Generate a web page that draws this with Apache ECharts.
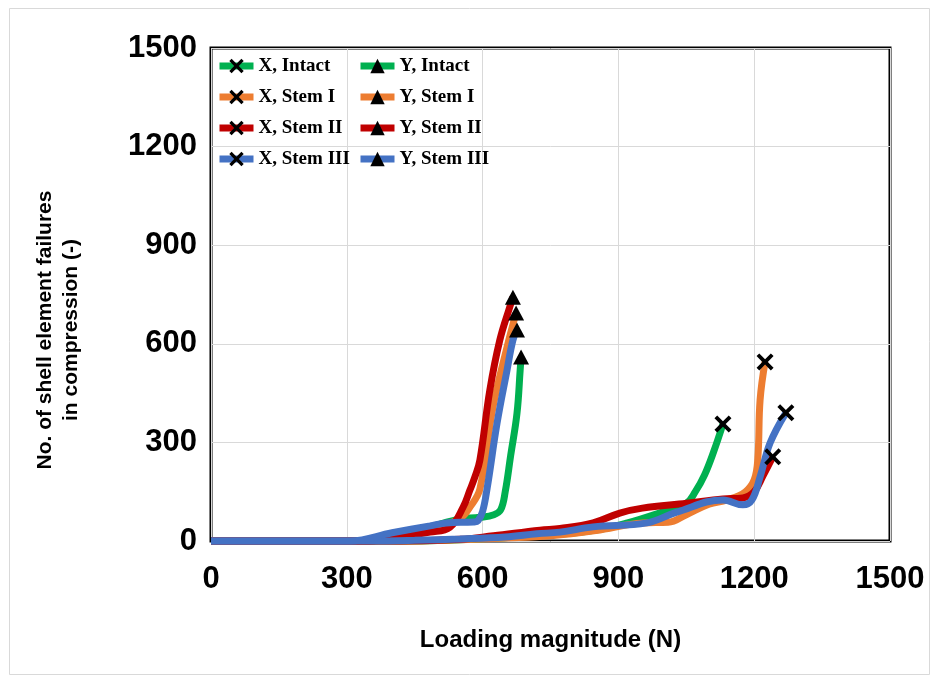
<!DOCTYPE html>
<html lang="en">
<head>
    <meta charset="UTF-8">
    <title>Shell element failures</title>
    <script src="https://cdn.jsdelivr.net/npm/echarts@6/dist/echarts.min.js"></script>
    <style>
        html, body { margin: 0; padding: 0; background: #fff; }
        #chart { width: 937px; height: 681px; }
    </style>
</head>
<body>
    <div id="chart"></div>
    <script>
        // axis ticks
        var xTicks = [0, 300, 600, 900, 1200, 1500];
        var yTicks = [0, 300, 600, 900, 1200, 1500];

        // [load (N), failures]
        var xIntact = [[0,0],[450,0],[550,4],[650,10],[750,18],[850,33],[920,55],[990,85],[1050,115],[1070,150],[1090,200],[1110,270],[1131,356]];
        var xStemI = [[0,0],[450,0],[550,4],[650,9],[750,16],[850,32],[954,55],[1010,57],[1050,80],[1100,112],[1140,125],[1180,149],[1200,186],[1208,250],[1213,429],[1224,545]];
        var xStemII = [[0,0],[420,0],[550,5],[624,16],[727,33],[771,38],[844,55],[903,85],[953,100],[1051,115],[1131,128],[1175,131],[1200,150],[1220,200],[1241,256]];
        var xStemIII = [[0,0],[350,0],[450,2],[550,6],[650,12],[720,22],[771,27],[844,43],[963,55],[1029,88],[1131,125],[1175,110],[1195,125],[1213,195],[1235,298],[1270,390]];

        var yIntact = [[0,0],[350,0],[450,28],[543,65],[594,72],[625,80],[640,95],[650,150],[662,260],[676,389],[683,520],[685,560]];
        var yStemI = [[0,0],[330,0],[400,12],[460,32],[510,48],[550,68],[572,103],[594,158],[623,408],[654,590],[674,694]];
        var yStemII = [[0,0],[350,0],[380,5],[484,27],[528,42],[557,103],[572,155],[583,195],[594,246],[616,459],[638,611],[660,712],[667,742]];
        var yStemIII = [[0,0],[307,0],[400,25],[484,46],[520,55],[580,58],[590,62],[600,90],[610,160],[632,359],[654,520],[667,611],[676,642]];

        var green = '#00b050', orange = '#ed7d31', red = '#c00000', blue = '#4472c4';
        var cross = 'path://M0,1.6L1.6,0L5,3.4L8.4,0L10,1.6L6.6,5L10,8.4L8.4,10L5,6.6L1.6,10L0,8.4L3.4,5Z';

        // only the last point gets a marker
        function build(points) {
            return points.map(function(p, i) {
                return i === points.length - 1 ? p : {value: p, symbol: 'none'};
            });
        }

        function line(name, points, color, symbol) {
            return {
                name: name,
                type: 'line',
                data: build(points),
                symbol: symbol,
                symbolSize: symbol === 'triangle' ? [16, 15] : 17,
                smooth: 0.4,
                clip: false,
                lineStyle: {color: color, width: 7},
                itemStyle: {color: '#000'},
                emphasis: {disabled: true}
            };
        }

        var legendText = {fontFamily: 'Liberation Serif', fontWeight: 'bold', fontSize: 19, lineHeight: 20, color: '#000'};
        var plain = function(v) { return String(v); };

        var chart = echarts.init(document.getElementById('chart'));
        chart.setOption({
            animation: false,
            backgroundColor: '#fff',
            graphic: [{
                type: 'rect',
                shape: {x: 9.5, y: 8.5, width: 920, height: 666},
                style: {fill: 'none', stroke: '#d9d9d9', lineWidth: 1},
                silent: true
            }, {
                type: 'text',
                x: 58, y: 330, rotation: Math.PI / 2,
                style: {
                    text: 'No. of shell element failures\nin compression (-)',
                    fontFamily: 'Liberation Sans', fontWeight: 'bold', fontSize: 21, lineHeight: 26,
                    fill: '#000', align: 'center', verticalAlign: 'middle'
                },
                silent: true
            }],
            grid: {
                left: 211, right: 47, top: 48, bottom: 140,
                show: true, borderColor: '#000', borderWidth: 3
            },
            legend: [{
                data: ['X, Intact', 'X, Stem I', 'X, Stem II', 'X, Stem III'],
                orient: 'vertical', left: 211, top: 51,
                itemWidth: 34, itemHeight: 18, itemGap: 11,
                lineStyle: {width: 7},
                textStyle: legendText
            }, {
                data: ['Y, Intact', 'Y, Stem I', 'Y, Stem II', 'Y, Stem III'],
                orient: 'vertical', left: 352, top: 51,
                itemWidth: 34, itemHeight: 18, itemGap: 11,
                lineStyle: {width: 7},
                textStyle: legendText
            }],
            xAxis: {
                type: 'value',
                min: xTicks[0], max: xTicks[xTicks.length - 1], interval: xTicks[1] - xTicks[0],
                name: 'Loading magnitude (N)',
                nameLocation: 'middle', nameGap: 87,
                nameTextStyle: {fontFamily: 'Liberation Sans', fontWeight: 'bold', fontSize: 24, color: '#000'},
                axisLine: {show: false}, axisTick: {show: false},
                axisLabel: {fontFamily: 'Liberation Sans', fontWeight: 'bold', fontSize: 31, color: '#000', margin: 23, formatter: plain},
                splitLine: {lineStyle: {color: '#d9d9d9', width: 1}}
            },
            yAxis: {
                type: 'value',
                min: yTicks[0], max: yTicks[yTicks.length - 1], interval: yTicks[1] - yTicks[0],
                axisLine: {show: false}, axisTick: {show: false},
                axisLabel: {fontFamily: 'Liberation Sans', fontWeight: 'bold', fontSize: 31, color: '#000', margin: 14, formatter: plain},
                splitLine: {lineStyle: {color: '#d9d9d9', width: 1}}
            },
            series: [
                line('X, Intact', xIntact, green, cross),
                line('Y, Intact', yIntact, green, 'triangle'),
                line('X, Stem I', xStemI, orange, cross),
                line('Y, Stem I', yStemI, orange, 'triangle'),
                line('X, Stem II', xStemII, red, cross),
                line('Y, Stem II', yStemII, red, 'triangle'),
                line('X, Stem III', xStemIII, blue, cross),
                line('Y, Stem III', yStemIII, blue, 'triangle')
            ]
        });
    </script>
</body>
</html>
